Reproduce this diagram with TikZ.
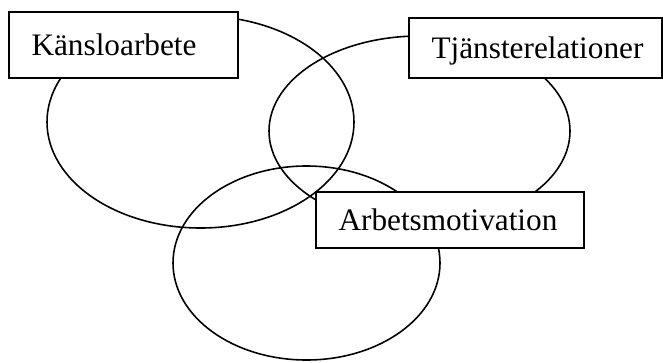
\documentclass[tikz,border=0pt]{standalone}
\usepackage{fontspec}
\setmainfont{Liberation Serif}
\usetikzlibrary{shapes.geometric, positioning}

\begin{document}
\begin{tikzpicture}[
    area/.style={
        ellipse, draw, line width=0.9pt, inner sep=0pt
    },
    labelbox/.style={
        rectangle, draw, fill=white, line width=0.9pt,
        align=left, inner xsep=0.45cm, inner ysep=0pt,
        font=\fontsize{17.8pt}{20pt}\selectfont,
        text height=0.42cm, text depth=0pt
    }
]
\useasboundingbox (0,0) rectangle (13.26,-7.24);

% the three overlapping fields
\node[area, minimum width=6.14cm, minimum height=4.24cm] (kansla) at (4.01,-2.44) {};
\node[area, minimum width=6.02cm, minimum height=3.80cm] (tjanst) at (8.39,-2.62) {};
\node[area, minimum width=5.34cm, minimum height=3.88cm] (motiv) at (6.13,-5.26) {};

% labels on top
\node[labelbox, text width=3.68cm, minimum height=1.32cm] (kanslalbl) at (2.47,-0.90) {Känsloarbete};
\node[labelbox, text width=4.16cm, minimum height=1.20cm] (tjanstlbl) at (10.71,-0.96) {Tjänsterelationer};
\node[labelbox, text width=4.46cm, minimum height=1.12cm] (motivlbl) at (9.00,-4.40) {Arbetsmotivation};

\end{tikzpicture}
\end{document}
